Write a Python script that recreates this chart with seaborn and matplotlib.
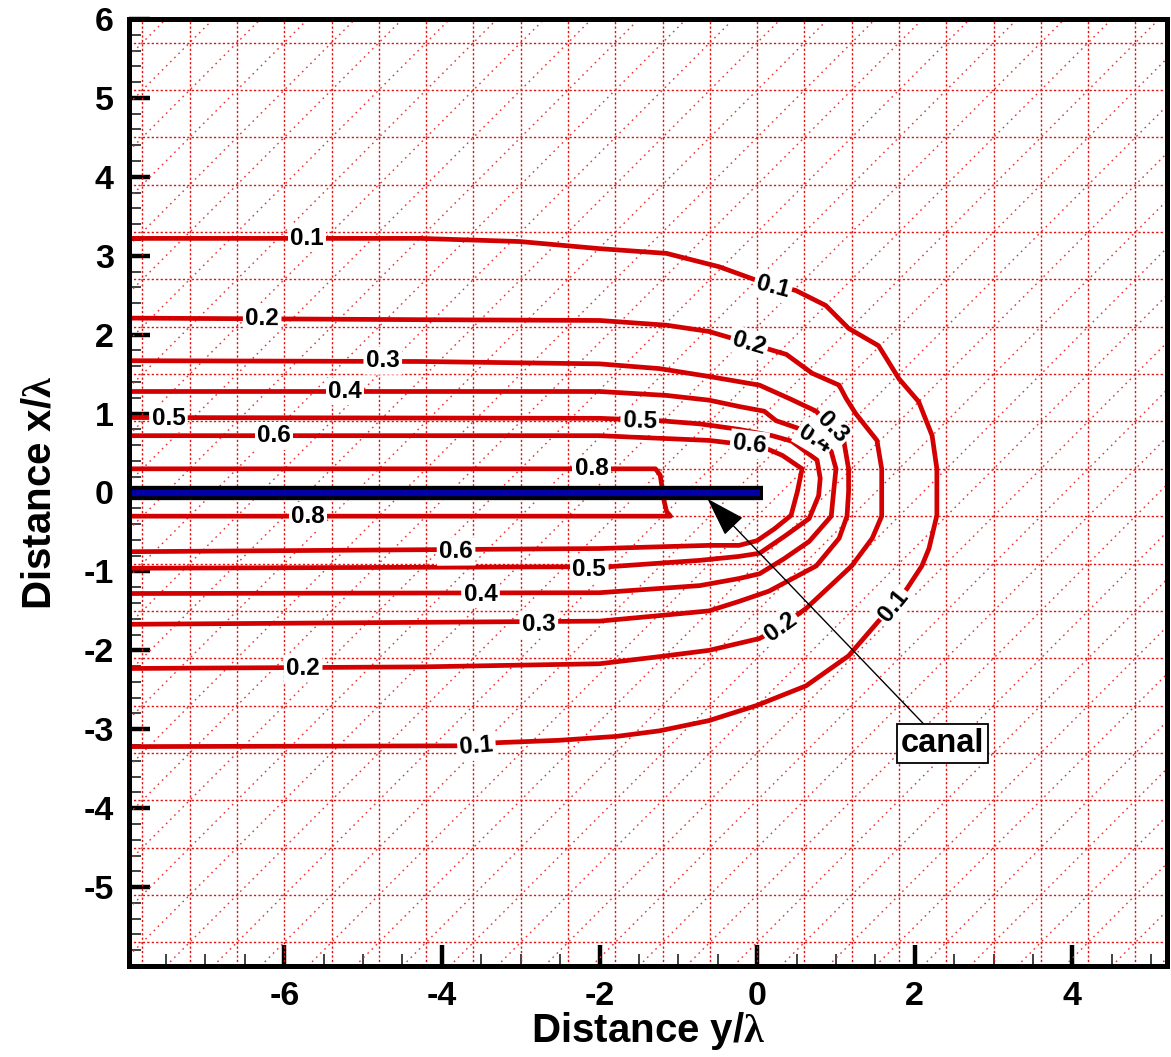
import numpy as np
import matplotlib
matplotlib.use("Agg")
import matplotlib.pyplot as plt
import seaborn as sns

# ---------------------------------------------------------------------------
# Iso-lines of the field around the canal, in the (y/λ, x/λ) plane
# ---------------------------------------------------------------------------
c01_y = [-7.97, -4.28, -3.01, -2.00, -1.15, -0.48, -0.01, 0.49, 0.87, 1.16, 1.54,
         1.80, 2.05, 2.22, 2.28, 2.28, 2.18, 2.09, 1.90, 1.73, 1.54, 1.16, 0.62,
         -0.01, -0.61, -1.24, -1.78, -2.51, -3.29, -3.77, -7.97]
c01_x = [3.22, 3.22, 3.18, 3.09, 3.03, 2.86, 2.69, 2.56, 2.37, 2.08, 1.86,
         1.44, 1.15, 0.72, 0.30, -0.29, -0.71, -0.93, -1.22, -1.43, -1.63, -2.07, -2.45,
         -2.70, -2.89, -3.02, -3.09, -3.14, -3.17, -3.21, -3.22]

c02_y = [-7.97, -4.28, -2.00, -1.15, -0.61, -0.10, 0.37, 0.70, 1.04, 1.13, 1.25, 1.52,
         1.58, 1.58, 1.46, 1.20, 0.62, 0.30, 0.03, -0.61, -1.24, -2.00, -4.28, -7.97]
c02_x = [2.21, 2.19, 2.18, 2.12, 2.04, 1.89, 1.75, 1.51, 1.36, 1.19, 1.00, 0.66,
         0.30, -0.30, -0.58, -0.93, -1.47, -1.70, -1.85, -2.00, -2.08, -2.17, -2.21, -2.23]

c03_y = [-7.97, -4.28, -2.00, -1.24, -0.61, 0.03, 0.41, 0.75, 0.91, 1.10, 1.16,
         1.16, 1.14, 1.04, 0.75, 0.15, -0.23, -0.61, -1.24, -2.00, -7.97]
c03_x = [1.67, 1.66, 1.63, 1.57, 1.47, 1.36, 1.19, 1.03, 0.84, 0.65, 0.30,
         0.01, -0.30, -0.58, -0.93, -1.25, -1.38, -1.50, -1.56, -1.63, -1.67]

c04_y = [-7.97, -2.00, -1.15, -0.61, -0.23, 0.09, 0.24, 0.53, 0.75, 0.94, 1.00,
         0.97, 0.94, 0.66, 0.34, 0.03, -0.23, -0.73, -2.00, -7.97]
c04_x = [1.28, 1.28, 1.23, 1.17, 1.09, 1.03, 0.91, 0.81, 0.68, 0.52, 0.30,
         0.01, -0.30, -0.62, -0.84, -1.03, -1.09, -1.18, -1.27, -1.28]

c05_y = [-7.97, -2.00, -1.24, -0.73, -0.23, 0.19, 0.44, 0.76, 0.80, 0.78, 0.66,
         0.34, 0.03, -0.23, -0.73, -1.87, -7.97]
c05_x = [0.95, 0.94, 0.91, 0.87, 0.80, 0.72, 0.65, 0.41, 0.18, -0.04, -0.33,
         -0.56, -0.77, -0.81, -0.86, -0.94, -0.96]

c06_y = [-7.97, -2.00, -0.61, -0.10, 0.11, 0.32, 0.57, 0.51, 0.43, 0.22, 0.00,
         -0.23, -0.61, -2.00, -7.97]
c06_x = [0.72, 0.72, 0.66, 0.60, 0.56, 0.47, 0.30, 0.01, -0.29, -0.46, -0.61,
         -0.67, -0.67, -0.71, -0.75]

c08_y = [-7.97, -1.29, -1.23, -1.18, -1.15, -1.10, -7.97]
c08_x = [0.30, 0.30, 0.22, -0.11, -0.24, -0.30, -0.30]

# inline label anchors (y/λ, x/λ) for each iso-line
c01_labels = [(-5.71, 3.22), (0.20, 2.61), (1.73, -1.43), (-3.56, -3.22)]
c02_labels = [(-6.28, 2.21), (-0.10, 1.89), (0.30, -1.70), (-5.76, -2.23)]
c03_labels = [(-4.75, 1.67), (0.95, 0.82), (-2.77, -1.67)]
c04_labels = [(-5.23, 1.28), (0.73, 0.68), (-3.51, -1.29)]
c05_labels = [(-7.47, 0.94), (-1.49, 0.91), (-2.13, -0.98)]
c06_labels = [(-6.13, 0.72), (-0.10, 0.61), (-3.82, -0.75)]
c08_labels = [(-2.10, 0.30), (-5.70, -0.30)]

isolines = [
    ("0.1", c01_y, c01_x, c01_labels),
    ("0.2", c02_y, c02_x, c02_labels),
    ("0.3", c03_y, c03_x, c03_labels),
    ("0.4", c04_y, c04_x, c04_labels),
    ("0.5", c05_y, c05_x, c05_labels),
    ("0.6", c06_y, c06_x, c06_labels),
    ("0.8", c08_y, c08_x, c08_labels),
]

# canal along the axis x/λ = 0
canal_y = [-7.97, 0.08]
canal_core_y = [-7.97, 0.03]
canal_x = [0.0, 0.0]
canal_tip = (-0.63, -0.08)
canal_note = (2.35, -3.18)

# computational mesh lines
mesh_y = np.round(np.arange(-7.8, 5.0, 0.6), 2)       # constant y/λ
mesh_x = np.round(np.arange(-5.7, 5.8, 0.6), 2)       # constant x/λ
mesh_diag = np.round(np.arange(-11.1, 14.1, 0.6), 2)  # x/λ - y/λ offsets

x_ticks = [-6, -4, -2, 0, 2, 4]
y_ticks = [-5, -4, -3, -2, -1, 0, 1, 2, 3, 4, 5, 6]

# ---------------------------------------------------------------------------
sns.set_style("white")
plt.rcParams.update({
    "font.family": ["Liberation Sans", "DejaVu Sans"],
    "font.weight": "bold",
    "axes.labelweight": "bold",
    "axes.unicode_minus": False,
    "text.color": "black",
    "axes.labelcolor": "black",
    "xtick.color": "black",
    "ytick.color": "black",
    "mathtext.fontset": "custom",
    "mathtext.rm": "Liberation Serif",
})

W, H = 1171, 1057
fig = plt.figure(figsize=(W / 100, H / 100), dpi=100)
ax = fig.add_axes([129 / W, 91 / H, 1038 / W, 947 / H])
ax.set_xlim(-7.97, 5.2)
ax.set_ylim(-6, 6)

grid_red = "#e31010"
for v in mesh_y:
    ax.axvline(v, color=grid_red, lw=1.0, ls=(0, (1.6, 1.6)), zorder=1)
for h in mesh_x:
    ax.axhline(h, color=grid_red, lw=1.0, ls=(0, (1.6, 1.6)), zorder=1)
for c in mesh_diag:
    ax.axline((0, c), slope=1, color="#ec3030", lw=1.0, ls=(0, (1.2, 3.0)), zorder=1)

line_red = "#d20000"
for _, ys, xs, _ in isolines:
    sns.lineplot(x=ys, y=xs, sort=False, estimator=None, color=line_red,
                 linewidth=3.4, ax=ax, zorder=3, legend=False)


def label_angle(px, py, ys, xs):
    pts = ax.transData.transform(np.column_stack([ys, xs]))
    p = ax.transData.transform((px, py))
    best_d, best_v = np.inf, None
    for a, b in zip(pts[:-1], pts[1:]):
        ab = b - a
        t = np.clip(np.dot(p - a, ab) / np.dot(ab, ab), 0, 1)
        d = np.hypot(*(a + t * ab - p))
        if d < best_d:
            best_d, best_v = d, ab
    ang = np.degrees(np.arctan2(best_v[1], best_v[0]))
    if ang > 90:
        ang -= 180
    elif ang < -90:
        ang += 180
    return ang


for k, (lev, ys, xs, labs) in enumerate(isolines):
    for (px, py) in labs:
        ang = label_angle(px, py, ys, xs)
        ax.text(px, py, lev, rotation=ang, rotation_mode="anchor",
                ha="center", va="center", fontsize=17.5, fontweight="bold",
                color="black", zorder=4.9 - 0.1 * k,
                bbox=dict(boxstyle="square,pad=0.1", fc="white", ec="none"))

# canal
sns.lineplot(x=canal_y, y=canal_x, color="black", linewidth=10.3, ax=ax,
             zorder=5, legend=False)
ax.lines[-1].set_solid_capstyle("butt")
sns.lineplot(x=canal_core_y, y=canal_x, color="#0000a6", linewidth=4.6, ax=ax,
             zorder=6, legend=False)
ax.lines[-1].set_solid_capstyle("butt")

ax.annotate("canal", xy=canal_tip, xytext=canal_note, ha="center", va="center",
            fontsize=23.5, fontweight="bold", zorder=8,
            bbox=dict(boxstyle="square,pad=0.12", fc="white", ec="black", lw=1.3),
            arrowprops=dict(arrowstyle="-|>,head_length=1.25,head_width=0.4",
                            color="black", lw=1.0, mutation_scale=20,
                            shrinkA=0, shrinkB=0))

# axes frame and ticks
ax.set_xticks(x_ticks)
ax.set_yticks(y_ticks)
ax.xaxis.set_minor_locator(matplotlib.ticker.MultipleLocator(0.5))
ax.yaxis.set_minor_locator(matplotlib.ticker.MultipleLocator(0.2))
ax.tick_params(which="major", direction="in", length=15, width=3.2,
               labelsize=24.5, pad=11, color="black", labelcolor="black",
               top=False, right=False, bottom=True, left=True)
ax.tick_params(which="minor", direction="in", length=8.5, width=1.2,
               color="#222222", top=False, right=False, bottom=True, left=True)
for lab in ax.get_xticklabels() + ax.get_yticklabels():
    lab.set_fontweight("bold")
for sp in ax.spines.values():
    sp.set_linewidth(3.6)
    sp.set_color("black")
    sp.set_zorder(10)

ax.set_xlabel(r"Distance y/$\mathrm{\lambda}$", fontsize=29, fontweight="bold",
              color="black", labelpad=-2)
ax.set_ylabel(r"Distance x/$\mathrm{\lambda}$", fontsize=29, fontweight="bold",
              color="black", labelpad=18)

fig.savefig("out.png", dpi=100)
